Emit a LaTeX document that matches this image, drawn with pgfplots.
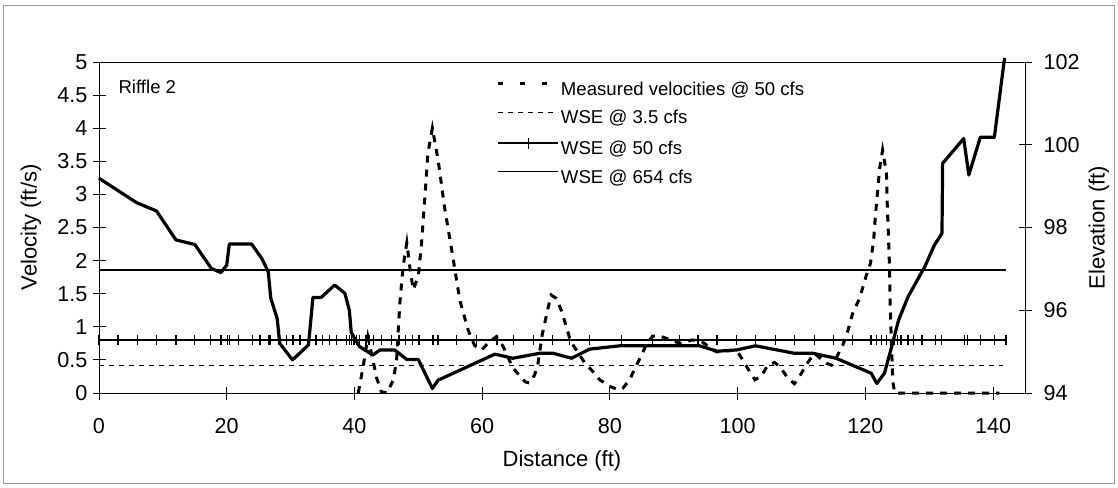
\documentclass[border=0pt]{standalone}
\usepackage{pgfplots}
\pgfplotsset{compat=1.18}
\usepackage{fontspec}
\setmainfont{Liberation Sans}

% measured velocities, ft/s (left axis)
\pgfplotstableread{
x v
40.6 0
41.4 0.42
42.1 0.85
43.5 0.22
44.2 0.02
45.1 0.0
46.1 0.2
46.6 0.5
47.1 1.35
47.6 1.9
48.2 2.27
48.7 1.88
49.2 1.56
50.0 1.76
50.5 2.26
51.0 2.92
51.5 3.62
52.2 4.0
53.1 3.52
54.1 2.81
55.4 2.06
56.5 1.40
57.8 0.95
58.8 0.72
59.9 0.65
61.2 0.78
62.2 0.85
63.3 0.70
64.8 0.38
66.7 0.17
67.4 0.15
68.2 0.27
68.7 0.42
69.4 0.88
70.3 1.28
70.8 1.48
71.6 1.43
72.4 1.25
73.7 0.83
74.2 0.73
76.1 0.45
77.1 0.35
78.4 0.2
80.0 0.1
81.3 0.05
82.0 0.07
83.1 0.2
83.9 0.37
84.9 0.56
85.7 0.73
86.7 0.86
87.8 0.86
89.6 0.80
90.9 0.75
92.8 0.80
94.0 0.80
96.7 0.62
99.8 0.65
100.8 0.5
101.9 0.32
102.7 0.2
103.7 0.25
104.7 0.42
105.8 0.46
106.6 0.4
107.9 0.22
108.9 0.14
109.7 0.25
110.7 0.42
112.0 0.6
113.9 0.45
114.7 0.42
115.4 0.52
116.5 0.73
117.3 0.95
118.0 1.2
119.1 1.43
120.1 1.76
120.8 1.96
121.3 2.31
121.6 2.71
122.0 3.12
122.2 3.37
122.7 3.67
123.3 3.32
123.4 2.92
123.6 2.41
123.8 1.86
123.9 1.30
124.1 0.70
124.3 0.17
124.6 0.0
141.0 0.0
}\velocity

% bed profile, ft (right axis)
\pgfplotstableread{
x z
0 99.19
5.9 98.6
9.0 98.40
12.05 97.70
15.0 97.59
17.6 97.01
19.1 96.91
20.0 97.09
20.4 97.60
23.9 97.60
25.5 97.25
26.5 96.93
26.9 96.29
27.9 95.80
28.3 95.20
30.3 94.80
32.8 95.16
33.5 96.31
34.8 96.31
36.9 96.61
38.5 96.41
39.2 96.00
39.5 95.46
40.8 95.12
42.9 94.92
44.0 95.04
46.3 95.04
48.2 94.81
50.0 94.81
52.2 94.11
53.1 94.31
62.0 94.94
64.8 94.84
69.0 94.96
71.1 94.96
74.0 94.84
76.8 95.06
81.5 95.14
94.05 95.14
96.8 95.01
99.8 95.04
102.8 95.14
108.9 94.96
111.8 94.96
115.4 94.84
120.9 94.48
121.8 94.23
123.0 94.48
124.05 95.08
125.2 95.76
126.7 96.33
129.3 97.05
130.8 97.57
132.0 97.86
132.1 99.55
135.4 100.15
136.2 99.27
138.0 100.18
140.2 100.18
141.8 102.1
}\bed

% survey stations, WSE @ 50 cfs
\pgfplotstableread{
x z
0 95.28
3.0 95.28
6.05 95.28
9.0 95.28
12.05 95.28
15.0 95.28
17.5 95.28
19.1 95.28
20.1 95.28
20.4 95.28
21.8 95.28
24.0 95.28
25.2 95.28
26.5 95.28
26.8 95.28
28.2 95.28
29.4 95.28
30.4 95.28
31.5 95.28
32.8 95.28
34.0 95.28
35.0 95.28
36.1 95.28
37.2 95.28
38.8 95.28
39.2 95.28
39.5 95.28
39.9 95.28
40.3 95.28
40.8 95.28
41.8 95.28
42.3 95.28
43.0 95.28
44.2 95.28
45.8 95.28
47.0 95.28
48.0 95.28
49.1 95.28
50.1 95.28
52.3 95.28
53.1 95.28
56.0 95.28
59.1 95.28
62.3 95.28
64.9 95.28
68.0 95.28
71.0 95.28
73.7 95.28
76.8 95.28
81.8 95.28
86.7 95.28
90.9 95.28
93.8 95.28
96.8 95.28
99.8 95.28
102.8 95.28
105.9 95.28
108.9 95.28
112.0 95.28
115.0 95.28
118.0 95.28
120.9 95.28
121.7 95.28
122.5 95.28
123.3 95.28
124.5 95.28
125.0 95.28
125.6 95.28
126.7 95.28
127.5 95.28
128.9 95.28
131.0 95.28
131.9 95.28
135.5 95.28
136.0 95.28
138.0 95.28
140.2 95.28
142.0 95.28
}\wsefifty

\begin{document}
\begin{tikzpicture}[font=\fontsize{9.3pt}{11pt}\selectfont]
\path[use as bounding box] (-49.5pt,-47pt) rectangle (509.5pt,196.5pt);
\draw[gray!80, line width=0.4pt] (-48pt,-45pt) rectangle (507.5pt,194pt);

\pgfplotsset{
  common/.style={
    scale only axis, width=463pt, height=165.5pt,
    at={(0,0)}, anchor=south west,
    xmin=0, xmax=145, clip=false,
    axis line style={line width=0.5pt},
    every tick/.style={black, line width=0.5pt},
    major tick length=6.5pt, tick align=center,
    tick label style={font=\fontsize{10.8pt}{12pt}\selectfont},
    label style={font=\fontsize{11pt}{13pt}\selectfont},
    /pgf/number format/assume math mode=true,
  },
  wse3/.style={black, line width=0.6pt, dash pattern=on 2.5pt off 2.5pt},
  wse50/.style={black, line width=1pt, mark=|, mark size=2.6pt, mark options={line width=0.7pt}},
  wse654/.style={black, line width=0.7pt},
  meas/.style={black, line width=1.5pt, dash pattern=on 3.5pt off 3.5pt},
}

\begin{axis}[common,
    ymin=0, ymax=5,
    ytick={0,0.5,1,1.5,2,2.5,3,3.5,4,4.5,5},
    xtick={0,20,...,140},
    xtick pos=bottom, ytick pos=left,
    xticklabel style={yshift=-6pt},
    yticklabel style={xshift=1pt},
    xlabel={Distance (ft)}, ylabel={Velocity (ft/s)},
    xlabel style={at={(axis description cs:0.5,-0.205)}, anchor=center},
    ylabel style={at={(axis description cs:-0.0734,0.5)}, anchor=center},
]
\addplot[meas] table[x=x, y=v] {\velocity};
\node[anchor=base west, inner sep=0pt] at (axis cs:3,4.53) {Riffle 2};
\end{axis}

\begin{axis}[common,
    ymin=94, ymax=102,
    ytick={94,96,98,100,102},
    axis x line=none, axis y line*=right,
    yticklabel style={xshift=2.5pt},
    ylabel={Elevation (ft)},
    ylabel style={at={(axis description cs:1.0799,0.5)}, anchor=center},
    legend cell align=left,
    legend style={at={(axis description cs:0.4298,0.941)}, anchor=north west,
      draw=none, fill=none, inner sep=0pt, outer sep=0pt,
      row sep=5.15pt, column sep=0.5pt,
      nodes={inner sep=0pt, outer sep=0pt, text height=7pt, text depth=2pt}},
    legend image code/.code={\draw[mark repeat=2, mark phase=2, #1]
      plot coordinates {(0pt,3.3pt) (15pt,3.3pt) (30pt,3.3pt)};},
]
\addlegendimage{meas, dash pattern=on 2.2pt off 8.8pt}
\addlegendentry{Measured velocities @ 50 cfs}
\addplot[wse3] coordinates {(0,94.66) (141.5,94.66)};
\addlegendentry{WSE @ 3.5 cfs}
\addplot[wse50, mark repeat=1] table[x=x, y=z] {\wsefifty};
\addlegendentry{WSE @ 50 cfs}
\addplot[wse654] coordinates {(0,96.97) (142,96.97)};
\addlegendentry{WSE @ 654 cfs}
\addplot[black, line width=1.6pt, line join=round, forget plot] table[x=x, y=z] {\bed};
\end{axis}
\end{tikzpicture}
\end{document}
